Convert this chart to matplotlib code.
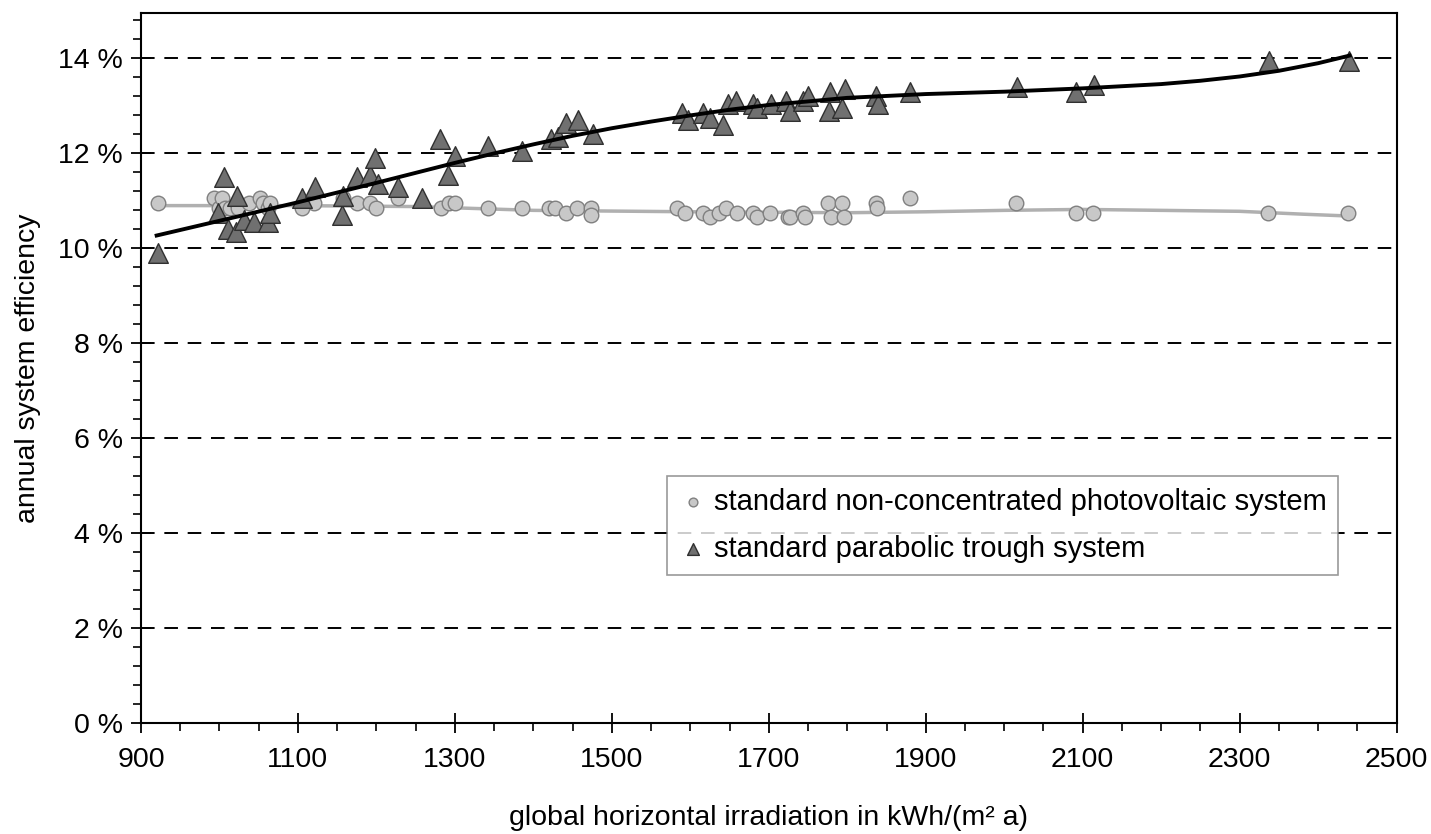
import matplotlib.pyplot as plt
from matplotlib.ticker import MultipleLocator, FixedLocator, FuncFormatter

plt.rcParams['font.family'] = ['Liberation Sans', 'DejaVu Sans']

# photovoltaic system points (irradiation kWh/(m² a), efficiency %)
pv_x = [922, 993, 1000, 1003, 1007, 1014, 1022, 1024, 1038, 1052, 1055, 1062, 1064,
        1105, 1120, 1158, 1175, 1192, 1200, 1227, 1282, 1292, 1300, 1342, 1385,
        1420, 1428, 1441, 1456, 1474, 1474, 1583, 1593, 1616, 1625, 1637, 1646,
        1660, 1680, 1685, 1702, 1725, 1727, 1743, 1746, 1776, 1779, 1793, 1796,
        1836, 1838, 1880, 2015, 2092, 2113, 2336, 2438]
pv_y = [10.95, 11.05, 10.85, 11.05, 10.85, 10.85, 10.95, 10.85, 10.95, 11.05, 10.95,
        10.85, 10.95, 10.85, 10.95, 11.05, 10.95, 10.95, 10.85, 11.05, 10.85, 10.95,
        10.95, 10.85, 10.85, 10.85, 10.85, 10.75, 10.85, 10.85, 10.7, 10.85, 10.75,
        10.75, 10.65, 10.75, 10.85, 10.75, 10.75, 10.65, 10.75, 10.65, 10.65, 10.75,
        10.65, 10.95, 10.65, 10.95, 10.65, 10.95, 10.85, 11.05, 10.95, 10.75, 10.75,
        10.75, 10.75]

# parabolic trough system points
pt_x = [922, 998, 1006, 1011, 1021, 1022, 1031, 1044, 1062, 1065, 1105, 1122, 1156,
        1158, 1175, 1192, 1198, 1202, 1227, 1258, 1281, 1291, 1300, 1342, 1386,
        1423, 1431, 1441, 1457, 1476, 1590, 1597, 1616, 1625, 1641, 1648, 1658,
        1680, 1685, 1703, 1722, 1727, 1743, 1750, 1778, 1777, 1797, 1793, 1837,
        1839, 1880, 2016, 2092, 2114, 2337, 2439]
pt_y = [9.9, 10.75, 11.5, 10.4, 10.35, 11.1, 10.6, 10.55, 10.55, 10.75, 11.05,
        11.3, 10.7, 11.1, 11.5, 11.55, 11.9, 11.35, 11.3, 11.05, 12.3, 11.55, 11.95,
        12.15, 12.05, 12.3, 12.35, 12.65, 12.7, 12.4, 12.85, 12.7, 12.85, 12.75,
        12.6, 13.05, 13.1, 13.05, 12.95, 13.05, 13.1, 12.9, 13.1, 13.2, 13.3, 12.9,
        13.35, 12.95, 13.2, 13.05, 13.3, 13.4, 13.3, 13.45, 13.95, 13.95]

# trend curves
pt_fit_x = [920, 1000, 1100, 1200, 1300, 1350, 1400, 1450, 1500, 1550, 1600, 1650,
            1700, 1800, 1900, 2000, 2100, 2200, 2250, 2300, 2350, 2400, 2440]
pt_fit_y = [10.27, 10.58, 10.97, 11.38, 11.8, 12.0, 12.19, 12.37, 12.53, 12.67,
            12.8, 12.92, 13.02, 13.17, 13.25, 13.3, 13.37, 13.46, 13.53, 13.62,
            13.74, 13.9, 14.06]
pv_fit_x = [920, 1100, 1250, 1400, 1600, 1800, 1900, 2000, 2100, 2200, 2300, 2380, 2440]
pv_fit_y = [10.9, 10.9, 10.88, 10.8, 10.77, 10.75, 10.77, 10.8, 10.82, 10.8, 10.78,
            10.72, 10.68]

x_ticks = [900, 1100, 1300, 1500, 1700, 1900, 2100, 2300, 2500]

fig = plt.figure(figsize=(14.31, 8.34), dpi=100)
ax = fig.add_axes([0.0985, 0.133, 0.8775, 0.851])

for y in range(2, 15, 2):
    ax.axhline(y, color='black', lw=1.4, ls=(0, (7, 5)), zorder=1)

ax.plot(pv_fit_x, pv_fit_y, color='#b0b0b0', lw=2.5, zorder=2)
ax.plot(pt_fit_x, pt_fit_y, color='black', lw=2.8, zorder=4)
ax.scatter(pv_x, pv_y, s=110, marker='o', facecolor='#c8c8c8', edgecolor='#808080',
           linewidth=1.0, zorder=3, label='standard non-concentrated photovoltaic system')
ax.scatter(pt_x, pt_y, s=200, marker='^', facecolor='#707070', edgecolor='#303030',
           linewidth=1.0, zorder=3, label='standard parabolic trough system')

ax.set_xlim(900, 2500)
ax.set_ylim(0, 14.95)
ax.xaxis.set_major_locator(FixedLocator(x_ticks))
ax.xaxis.set_minor_locator(MultipleLocator(50))
ax.yaxis.set_major_locator(MultipleLocator(2))
ax.yaxis.set_minor_locator(MultipleLocator(0.4))
ax.yaxis.set_major_formatter(FuncFormatter(lambda v, p: f"{v:.0f} %"))

ax.tick_params(axis='both', which='major', direction='inout', length=14, width=1.3,
               labelsize=20.5, pad=6)
ax.tick_params(axis='x', which='major', pad=10)
ax.tick_params(axis='both', which='minor', direction='out', length=6, width=1.2)
for s in ax.spines.values():
    s.set_linewidth(1.5)

ax.set_xlabel("global horizontal irradiation in kWh/(m² a)", fontsize=20.5, labelpad=23)
ax.set_ylabel("annual system efficiency", fontsize=20.5, labelpad=12)

leg = ax.legend(loc='lower left', bbox_to_anchor=(0.412, 0.197), fontsize=21,
                frameon=True, fancybox=False, edgecolor='#808080', markerscale=0.6,
                handletextpad=0.2, borderpad=0.4, borderaxespad=0.3,
                labelspacing=0.65, handlelength=1.0)
leg.get_frame().set_linewidth(1.2)

fig.savefig('out.png', dpi=100)
